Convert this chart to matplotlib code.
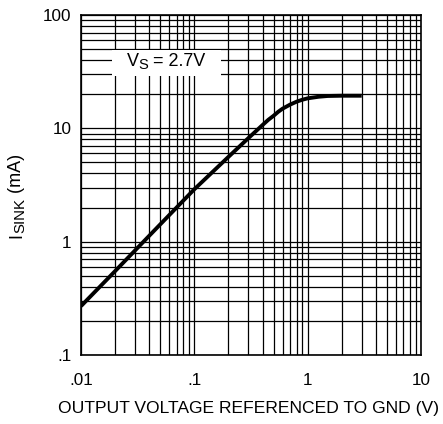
import matplotlib
matplotlib.use("Agg")
import matplotlib.pyplot as plt
from matplotlib.ticker import LogLocator, NullFormatter
from matplotlib.patches import Rectangle
from matplotlib.transforms import Bbox

plt.rcParams['font.family'] = ['Liberation Sans', 'DejaVu Sans']

# curve
v_out = [0.01, 0.02, 0.05, 0.1, 0.2, 0.3, 0.4, 0.45, 0.5, 0.55, 0.6, 0.7, 0.8, 0.9, 1.0, 1.25, 1.5, 2.0, 3.0]
i_sink = [0.27, 0.55, 1.42, 2.9, 5.6, 8.2, 10.7, 11.9, 12.9, 14.0, 14.9, 16.2, 17.2, 17.9, 18.4, 19.0, 19.3, 19.4, 19.4]

x_ticks = [0.01, 0.1, 1, 10]
x_ticklabels = ['.01', '.1', '1', '10']
y_ticks = [0.1, 1, 10, 100]
y_ticklabels = ['.1', '1', '10', '100']

fig = plt.figure(figsize=(4.43, 4.24), dpi=100)
ax = fig.add_axes([0.1828, 0.1627, 0.7675, 0.8019])

ax.set_xscale('log')
ax.set_yscale('log')
ax.set_xlim(0.01, 10)
ax.set_ylim(0.1, 100)

ax.xaxis.set_minor_locator(LogLocator(base=10, subs=range(2, 10)))
ax.yaxis.set_minor_locator(LogLocator(base=10, subs=range(2, 10)))
ax.xaxis.set_minor_formatter(NullFormatter())
ax.yaxis.set_minor_formatter(NullFormatter())
ax.set_xticks(x_ticks)
ax.set_xticklabels(x_ticklabels)
ax.set_yticks(y_ticks)
ax.set_yticklabels(y_ticklabels)

ax.grid(which='both', color='black', linewidth=0.9)
ax.tick_params(which='both', length=0, labelsize=12.3)
ax.tick_params(axis='x', pad=13)
ax.tick_params(axis='y', pad=7)
for s in ax.spines.values():
    s.set_linewidth(1.2)

ax.plot(v_out, i_sink, color='black', linewidth=2.8, solid_capstyle='butt', zorder=3)

# V_S label, subscript nearly full size like the original
fs = 13
vt = ax.text(0.0253, 35.6, 'V', fontsize=fs, ha='left', va='baseline', zorder=5)
st = ax.annotate('S', xy=(1, 0), xycoords=vt, fontsize=fs * 0.82, ha='left',
                 va='baseline', xytext=(0, 0.5), textcoords='offset pixels', zorder=5)
rt = ax.annotate(' = 2.7V', xy=(1, 0), xycoords=(st, vt), fontsize=fs, ha='left',
                 va='bottom', zorder=5)

# y label: I + SINK (subscript) + (mA)
t1 = fig.text(0.037, 0.439, 'I', fontsize=13, rotation=90, ha='center', va='bottom')
t2 = ax.annotate('SINK', xy=(1, 1), xycoords=t1, fontsize=10.8, rotation=90,
                 ha='right', va='bottom', xytext=(2.5, 0), textcoords='offset pixels',
                 annotation_clip=False)
t3 = ax.annotate(' (mA)', xy=(1, 1), xycoords=(t1, t2), fontsize=13, rotation=90,
                 ha='right', va='bottom', annotation_clip=False)

ax.set_xlabel('OUTPUT VOLTAGE REFERENCED TO GND (V)', fontsize=12.6, labelpad=9)
ax.xaxis.label.set_x(0.4926)

# white box behind the V_S label
fig.canvas.draw()
r = fig.canvas.get_renderer()
bb = Bbox.union([a.get_window_extent(r) for a in (vt, st, rt)])
bb = Bbox.from_extents(bb.x0 - 15, bb.y0 - 4, bb.x1 + 15, bb.y1 + 3)
bb_ax = bb.transformed(ax.transAxes.inverted())
ax.add_patch(Rectangle((bb_ax.x0, bb_ax.y0), bb_ax.width, bb_ax.height,
                       transform=ax.transAxes, facecolor='white', edgecolor='none', zorder=4))

fig.savefig('out.png', dpi=100)
